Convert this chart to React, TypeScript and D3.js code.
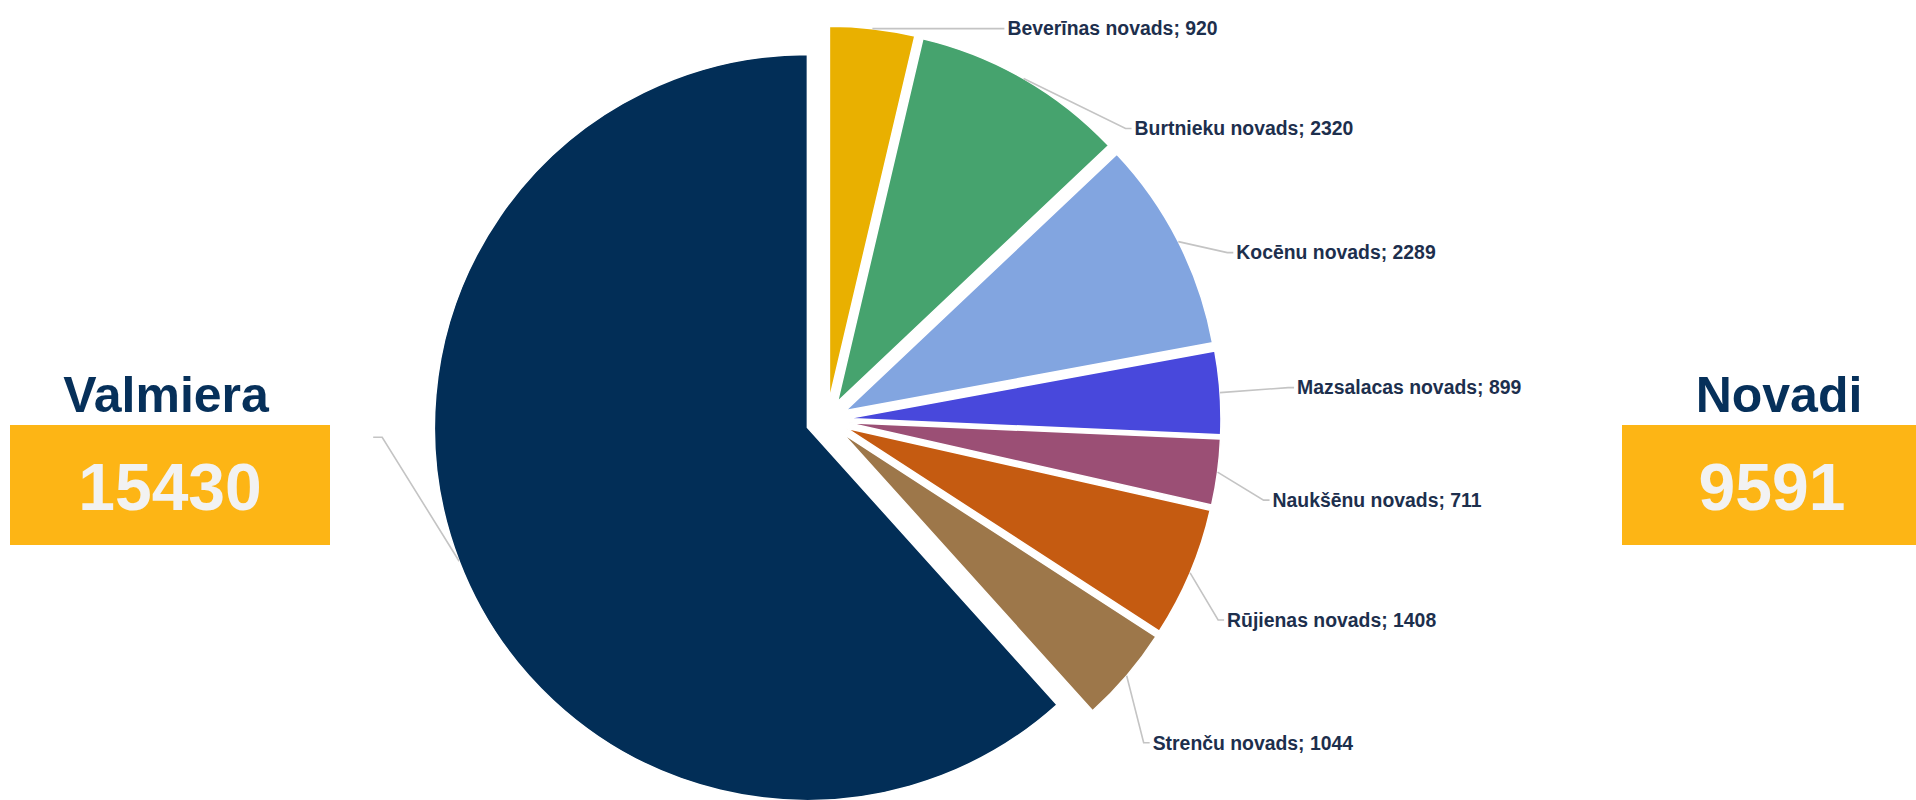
import * as d3 from "d3";
import { useRef, useEffect } from "react";

const regions = [
  "Beverīnas novads",
  "Burtnieku novads",
  "Kocēnu novads",
  "Mazsalacas novads",
  "Naukšēnu novads",
  "Rūjienas novads",
  "Strenču novads",
  "Valmiera",
];
const counts = [920, 2320, 2289, 899, 711, 1408, 1044, 15430];
const sliceColors = [
  "#E9B000",
  "#46A36E",
  "#82A5E0",
  "#4848DC",
  "#9B4F75",
  "#C55B11",
  "#9D774A",
  "#022E57",
];
// label elbow offsets from the slice's outer point (layout only)
const labelOffsets: [number, number][] = [
  [126, 0],
  [102, 50],
  [49, 11],
  [68, -5],
  [46, 28],
  [28, 47],
  [17, 67],
  [-77, -124],
];
const showLabel = [true, true, true, true, true, true, true, false];

const cityName = "Valmiera";
const ruralName = "Novadi";

export default function App() {
  const width = 1916;
  const height = 800;
  const cx = 827;
  const cy = 420;
  const radius = 373;
  const explode = 21;
  const font = "'Liberation Sans', Arial, sans-serif";

  const ref = useRef(null);
  useEffect((): void => {
    if (!ref.current) return;
    const svg = d3.select(ref.current);
    svg.selectAll("*").remove();

    const cityTotal = counts[counts.length - 1];
    const ruralTotal = d3.sum(counts.slice(0, -1));

    const pie = d3
      .pie<number>()
      .sort(null)
      .value((d) => d);
    const arcs = pie(counts);

    const arc = d3
      .arc<d3.PieArcDatum<number>>()
      .innerRadius(0)
      .outerRadius(radius);

    const offset = (d: d3.PieArcDatum<number>, r: number): [number, number] => {
      const a = (d.startAngle + d.endAngle) / 2;
      return [Math.sin(a) * r, -Math.cos(a) * r];
    };

    const g = svg.append("g").attr("transform", `translate(${cx},${cy})`);

    g.selectAll("path")
      .data(arcs)
      .join("path")
      .attr("d", arc)
      .attr("fill", (_d, i) => sliceColors[i])
      .attr("stroke", "#ffffff")
      .attr("stroke-width", 1.5)
      .attr("transform", (d) => `translate(${offset(d, explode)})`);

    // leader lines
    const lines = g.append("g");
    arcs.forEach((d, i) => {
      const [x0, y0] = offset(d, radius + explode);
      const [ox, oy] = labelOffsets[i];
      const x1 = x0 + ox;
      const y1 = y0 + oy;
      const tail = ox >= 0 ? 6 : -9;
      lines
        .append("polyline")
        .attr("points", `${x0},${y0} ${x1},${y1} ${x1 + tail},${y1}`)
        .attr("fill", "none")
        .attr("stroke", "#c4c4c4")
        .attr("stroke-width", 1.6);
      if (showLabel[i]) {
        lines
          .append("text")
          .attr("x", x1 + tail + 3)
          .attr("y", y1)
          .attr("dy", "0.35em")
          .attr("font-family", font)
          .attr("font-weight", "bold")
          .attr("font-size", 19.4)
          .attr("fill", "#1d2f4d")
          .text(`${regions[i]}; ${d.data}`);
      }
    });

    // side boxes
    const boxes = [
      { title: cityName, value: cityTotal, x: 10, titleX: 166, valueX: 170 },
      { title: ruralName, value: ruralTotal, x: 1622, titleX: 1779, valueX: 1772 },
    ];
    boxes.forEach((b) => {
      svg
        .append("rect")
        .attr("x", b.x)
        .attr("y", 425)
        .attr("width", 320)
        .attr("height", 120)
        .attr("fill", "#FDB515");
      svg
        .append("text")
        .attr("x", b.titleX)
        .attr("y", 412)
        .attr("text-anchor", "middle")
        .attr("font-family", font)
        .attr("font-weight", "bold")
        .attr("font-size", 50)
        .attr("fill", "#06305A")
        .text(b.title);
      svg
        .append("text")
        .attr("x", b.valueX)
        .attr("y", 510)
        .attr("text-anchor", "middle")
        .attr("font-family", font)
        .attr("font-weight", "bold")
        .attr("font-size", 66)
        .attr("fill", "#F2F2F2")
        .text(String(b.value));
    });
  }, []);

  return (
    <>
      <style>{"body{margin:0;background:#fff}"}</style>
      <svg
        ref={ref}
        width={width}
        height={height}
        style={{ display: "block", background: "#ffffff" }}
      />
    </>
  );
}
